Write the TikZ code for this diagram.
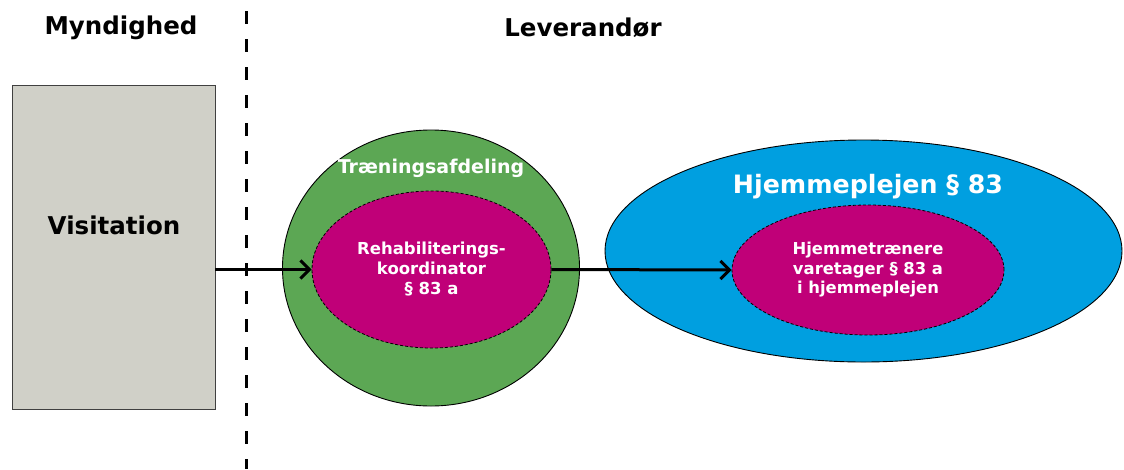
\documentclass[tikz,border=0pt]{standalone}
\usepackage{fontspec}
\setmainfont{DejaVu Sans}
\usetikzlibrary{shapes.geometric,arrows.meta}
\definecolor{boxgray}{RGB}{208,208,200}
\definecolor{trgreen}{RGB}{92,167,84}
\definecolor{kmagenta}{RGB}{192,0,120}
\definecolor{hpblue}{RGB}{0,159,224}
\tikzset{
  heading/.style={font=\bfseries\fontsize{24.5}{28}\selectfont, text=black},
  outerell/.style={ellipse, draw=black, line width=0.9pt, inner sep=0pt},
  innerell/.style={ellipse, draw=black, line width=0.8pt, dash pattern=on 3pt off 2pt,
    fill=kmagenta, inner sep=0pt, text=white, align=center},
  flow/.style={line width=3pt, -{Straight Barb[length=9pt,width=18pt,line width=3pt]}},
}
\begin{document}
\begin{tikzpicture}[x=1pt,y=-1pt]
\useasboundingbox (0,0) rectangle (1124,469);

% column headings and separator
\node[heading] (myn) at (121,28) {Myndighed};
\node[heading] (lev) at (583,28) {Leverandør};
\coordinate (sepTop) at (246,11);
\coordinate (sepBot) at (246,469);
\draw[line width=3pt, dash pattern=on 13pt off 15pt] (sepTop) -- (sepBot);

% authority box
\node[draw=black!75, line width=0.9pt, fill=boxgray, minimum width=203pt, minimum height=324pt,
      inner sep=0pt] (vis) at (113.5,247) {};
\node[font=\bfseries\fontsize{24.5}{28}\selectfont] (vistxt) at (114,225) {Visitation};

% training department
\node[outerell, fill=trgreen, minimum width=297pt, minimum height=276pt] (tr) at (431,268) {};
\node[font=\bfseries\fontsize{19}{22}\selectfont, text=white] (trtxt) at (431,168) {Træningsafdeling};
\node[innerell, minimum width=239pt, minimum height=157pt,
      font=\bfseries\fontsize{16.5}{20}\selectfont] (rk) at (431.5,269.5)
      {Rehabiliterings-\\koordinator\\§ 83 a};

% home care
\node[outerell, fill=hpblue, minimum width=517pt, minimum height=222pt] (hp) at (863.5,251) {};
\node[font=\bfseries\fontsize{25.3}{28}\selectfont, text=white] (hptxt) at (868,187) {Hjemmeplejen § 83};
\node[innerell, minimum width=272pt, minimum height=130pt,
      font=\bfseries\fontsize{16.4}{19.5}\selectfont] (ht) at (868,270)
      {Hjemmetrænere\\varetager § 83 a\\i hjemmeplejen};

% flow
\draw[flow] (vis.east |- rk.west) -- (rk.west);
\draw[flow] (rk.east) -- (ht.west);
\end{tikzpicture}
\end{document}
